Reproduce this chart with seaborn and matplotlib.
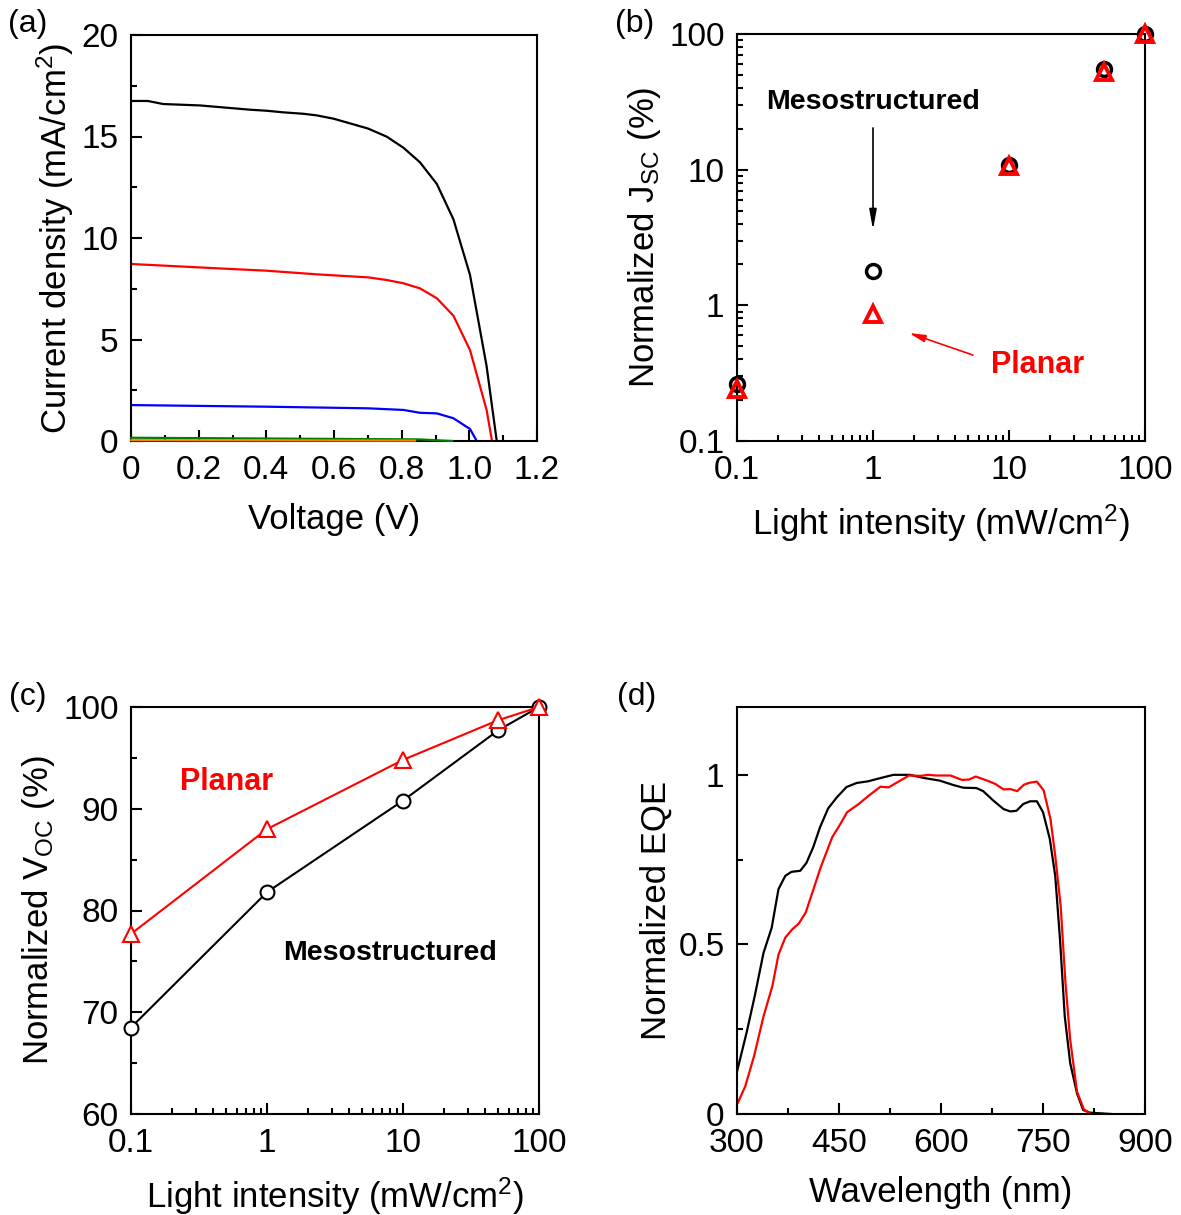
import matplotlib
matplotlib.use("Agg")
import matplotlib.pyplot as plt
from matplotlib.ticker import FuncFormatter, MultipleLocator, LogLocator, NullFormatter, FixedLocator
import seaborn as sns

# ---------------- (a) J-V curves under different light intensities ----------------
v_100 = [0, 0.05, 0.095, 0.204, 0.352, 0.40, 0.45, 0.509, 0.549, 0.598, 0.657, 0.701,
         0.756, 0.805, 0.854, 0.904, 0.953, 1.002, 1.051, 1.081]
j_100 = [16.75, 16.75, 16.6, 16.53, 16.32, 16.27, 16.19, 16.12, 16.04, 15.88, 15.6, 15.39,
         14.99, 14.45, 13.73, 12.66, 10.92, 8.18, 3.69, 0.0]
v_50 = [0, 0.263, 0.40, 0.549, 0.701, 0.756, 0.805, 0.854, 0.904, 0.953, 1.002, 1.051, 1.067]
j_50 = [8.72, 8.5, 8.39, 8.21, 8.06, 7.93, 7.77, 7.52, 7.03, 6.17, 4.48, 1.53, 0.0]
v_10 = [0, 0.40, 0.70, 0.805, 0.854, 0.904, 0.953, 1.002, 1.022]
j_10 = [1.77, 1.69, 1.61, 1.53, 1.39, 1.36, 1.12, 0.59, 0.0]
v_1 = [0, 0.85, 0.95]
j_1 = [0.16, 0.08, 0.0]
v_01 = [0, 0.84]
j_01 = [0.04, 0.02]

# ---------------- (b), (c) light-intensity dependence ----------------
intensity = [0.1, 1, 10, 50, 100]
jsc_meso = [0.265, 1.8, 10.8, 55.5, 100]
jsc_planar = [0.24, 0.87, 10.7, 52.5, 100]
voc_meso = [68.5, 81.8, 90.8, 97.7, 100]
voc_planar = [77.7, 88.0, 94.8, 98.7, 100]

# ---------------- (d) normalized EQE spectra ----------------
wl_meso = [300, 314, 326, 339, 351, 361, 371, 380, 393, 402, 412, 422, 434, 447, 461, 476,
           493, 510, 530, 554, 574, 598, 618, 633, 652, 662, 677, 692, 702, 711, 721, 731,
           741, 750, 760, 768, 775, 782, 790, 800, 809, 819, 851]
eqe_meso = [0.125, 0.239, 0.347, 0.475, 0.549, 0.663, 0.702, 0.714, 0.717, 0.740, 0.786,
            0.845, 0.901, 0.934, 0.964, 0.976, 0.981, 0.990, 1.0, 1.0, 0.991, 0.983, 0.970,
            0.962, 0.961, 0.952, 0.924, 0.899, 0.892, 0.894, 0.914, 0.922, 0.922, 0.890,
            0.811, 0.702, 0.515, 0.288, 0.150, 0.061, 0.012, 0.004, 0.0]
wl_planar = [301, 312, 325, 339, 352, 361, 371, 381, 391, 401, 410, 423, 440, 452, 462, 479,
             494, 511, 523, 540, 553, 570, 582, 592, 614, 631, 641, 651, 668, 680, 692, 702,
             712, 722, 731, 741, 751, 761, 768, 776, 783, 790, 800, 810, 820]
eqe_planar = [0.032, 0.081, 0.170, 0.288, 0.377, 0.470, 0.520, 0.544, 0.562, 0.594, 0.648,
              0.727, 0.816, 0.855, 0.890, 0.914, 0.939, 0.965, 0.963, 0.983, 0.998, 0.997,
              1.0, 0.998, 0.998, 0.985, 0.986, 0.995, 0.983, 0.973, 0.957, 0.958, 0.952,
              0.971, 0.977, 0.980, 0.954, 0.870, 0.761, 0.613, 0.387, 0.219, 0.066, 0.014, 0.0]

sns.set_theme(style="ticks")
plt.rcParams.update({
    "font.family": ["Liberation Sans", "DejaVu Sans"],
    "mathtext.fontset": "custom",
    "mathtext.rm": "Liberation Sans",
    "mathtext.it": "Liberation Sans:italic",
    "mathtext.bf": "Liberation Sans:bold",
    "axes.linewidth": 1.5,
    "axes.edgecolor": "black",
    "xtick.direction": "in",
    "ytick.direction": "in",
    "xtick.major.size": 8,
    "ytick.major.size": 8,
    "xtick.minor.size": 4.5,
    "ytick.minor.size": 4.5,
    "xtick.major.width": 1.5,
    "ytick.major.width": 1.5,
    "xtick.minor.width": 1.5,
    "ytick.minor.width": 1.5,
    "xtick.major.pad": 10,
    "ytick.major.pad": 9,
    "xtick.labelsize": 24,
    "ytick.labelsize": 24,
    "axes.labelsize": 25,
    "xtick.color": "black",
    "ytick.color": "black",
    "axes.labelcolor": "black",
})

fig = plt.figure(figsize=(11.81, 12.15), dpi=100)
W, H = 1181, 1215


def add_axes(x0, y0, x1, y1):
    return fig.add_axes([x0 / W, 1 - y1 / H, (x1 - x0) / W, (y1 - y0) / H])


ax_a = add_axes(131, 35, 537, 441)
ax_b = add_axes(737, 34, 1145, 441)
ax_c = add_axes(131, 707, 539, 1114)
ax_d = add_axes(737, 707, 1145, 1114)

plain = FuncFormatter(lambda v, _: f"{v:g}")
XPAD, YPAD = 12, 4

# ---- (a) ----
line_kw = dict(estimator=None, sort=False, lw=1.6, ax=ax_a)
sns.lineplot(x=v_100, y=j_100, color="black", **line_kw)
sns.lineplot(x=v_50, y=j_50, color="#ff0000", **line_kw)
sns.lineplot(x=v_10, y=j_10, color="#0000ff", **line_kw)
sns.lineplot(x=v_1, y=j_1, color="#008000", zorder=3, clip_on=False, **line_kw)
sns.lineplot(x=v_01, y=j_01, color="#ff8000", zorder=3.5, clip_on=False, **line_kw)
ax_a.set_xlim(0, 1.2)
ax_a.set_ylim(0, 20)
ax_a.xaxis.set_major_locator(MultipleLocator(0.2))
ax_a.xaxis.set_minor_locator(MultipleLocator(0.1))
ax_a.yaxis.set_major_locator(MultipleLocator(5))
ax_a.yaxis.set_minor_locator(MultipleLocator(2.5))
ax_a.xaxis.set_major_formatter(FuncFormatter(lambda v, _: "0" if abs(v) < 1e-9 else f"{v:.1f}"))
ax_a.set_xlabel("Voltage (V)", labelpad=XPAD)
ax_a.set_ylabel("Current density (mA/cm$^2$)", labelpad=YPAD)

# ---- (b) ----
mk_circle = dict(marker="o", ls="none", markersize=10, markerfacecolor="none",
                 markeredgecolor="black", markeredgewidth=2.5, clip_on=False,
                 estimator=None, sort=False, ax=ax_b)
mk_tri = dict(marker="^", ls="none", markersize=11, markerfacecolor="none",
              markeredgecolor="#ff0000", markeredgewidth=2.8, clip_on=False,
              estimator=None, sort=False, ax=ax_b)
sns.lineplot(x=intensity, y=jsc_meso, zorder=4, **mk_circle)
sns.lineplot(x=intensity, y=jsc_planar, zorder=5, **mk_tri)
ax_b.set_xscale("log")
ax_b.set_yscale("log")
ax_b.set_xlim(0.1, 100)
ax_b.set_ylim(0.1, 100)
ax_b.set_xlabel("Light intensity (mW/cm$^2$)", labelpad=XPAD)
ax_b.set_ylabel("Normalized J$_{\\mathrm{SC}}$ (%)", labelpad=YPAD)
ax_b.annotate("", xy=(1.0, 3.6), xytext=(1.0, 20.3),
              arrowprops=dict(arrowstyle="-|>,head_width=0.18,head_length=1.0",
                              color="black", lw=1.2, shrinkA=0, shrinkB=0))
ax_b.text(1.0, 31.5, "Mesostructured", ha="center", va="center",
          fontsize=20.5, fontweight="bold", color="black")
ax_b.annotate("", xy=(1.84, 0.625), xytext=(5.43, 0.43),
              arrowprops=dict(arrowstyle="-|>,head_width=0.18,head_length=0.8",
                              color="#ff0000", lw=1.2, shrinkA=0, shrinkB=0))
ax_b.text(16.1, 0.363, "Planar", ha="center", va="center",
          fontsize=22, fontweight="bold", color="#ff0000")

# ---- (c) ----
sns.lineplot(x=intensity, y=voc_meso, color="black", lw=1.5, marker="o", markersize=10,
             markerfacecolor="white", markeredgecolor="black", markeredgewidth=1.5,
             clip_on=False, estimator=None, sort=False, ax=ax_c, zorder=4)
sns.lineplot(x=intensity, y=voc_planar, color="#ff0000", lw=1.5, marker="^", markersize=11,
             markerfacecolor="white", markeredgecolor="#ff0000", markeredgewidth=1.5,
             clip_on=False, estimator=None, sort=False, ax=ax_c, zorder=5)
ax_c.set_xscale("log")
ax_c.set_xlim(0.1, 100)
ax_c.set_ylim(60, 100)
ax_c.yaxis.set_major_locator(MultipleLocator(10))
ax_c.yaxis.set_minor_locator(MultipleLocator(5))
ax_c.set_xlabel("Light intensity (mW/cm$^2$)", labelpad=XPAD)
ax_c.set_ylabel("Normalized V$_{\\mathrm{OC}}$ (%)", labelpad=YPAD)
ax_c.text(0.508, 92.6, "Planar", ha="center", va="center",
          fontsize=22, fontweight="bold", color="#ff0000")
ax_c.text(8.0, 75.8, "Mesostructured", ha="center", va="center",
          fontsize=20.5, fontweight="bold", color="black")

for ax in (ax_b, ax_c):
    ax.xaxis.set_major_locator(LogLocator(base=10, numticks=10))
    ax.xaxis.set_minor_locator(LogLocator(base=10, subs=range(2, 10), numticks=10))
    ax.xaxis.set_major_formatter(plain)
    ax.xaxis.set_minor_formatter(NullFormatter())
ax_b.yaxis.set_major_locator(LogLocator(base=10, numticks=10))
ax_b.yaxis.set_minor_locator(LogLocator(base=10, subs=range(2, 10), numticks=10))
ax_b.yaxis.set_major_formatter(plain)
ax_b.yaxis.set_minor_formatter(NullFormatter())

# ---- (d) ----
sns.lineplot(x=wl_meso, y=eqe_meso, color="black", lw=1.6, estimator=None, sort=False, ax=ax_d)
sns.lineplot(x=wl_planar, y=eqe_planar, color="#ff0000", lw=1.6, estimator=None, sort=False, ax=ax_d)
ax_d.set_xlim(300, 900)
ax_d.set_ylim(0, 1.2)
ax_d.xaxis.set_major_locator(MultipleLocator(150))
ax_d.xaxis.set_minor_locator(MultipleLocator(75))
ax_d.yaxis.set_major_locator(FixedLocator([0, 0.5, 1]))
ax_d.yaxis.set_minor_locator(FixedLocator([0.25, 0.75]))
ax_d.yaxis.set_major_formatter(plain)
ax_d.set_xlabel("Wavelength (nm)", labelpad=XPAD)
ax_d.set_ylabel("Normalized EQE", labelpad=YPAD)

for ax in (ax_a, ax_b, ax_c, ax_d):
    ax.tick_params(which="both", top=False, right=False)
    for s in ax.spines.values():
        s.set_visible(True)
        s.set_linewidth(1.5)
        s.set_color("black")

# panel letters
for label, (px, py) in {"(a)": (28, 24), "(b)": (635, 24), "(c)": (28, 697), "(d)": (637, 697)}.items():
    fig.text(px / W, 1 - py / H, label, ha="center", va="center", fontsize=23, color="black")

fig.savefig("out.png", dpi=100, facecolor="white")
